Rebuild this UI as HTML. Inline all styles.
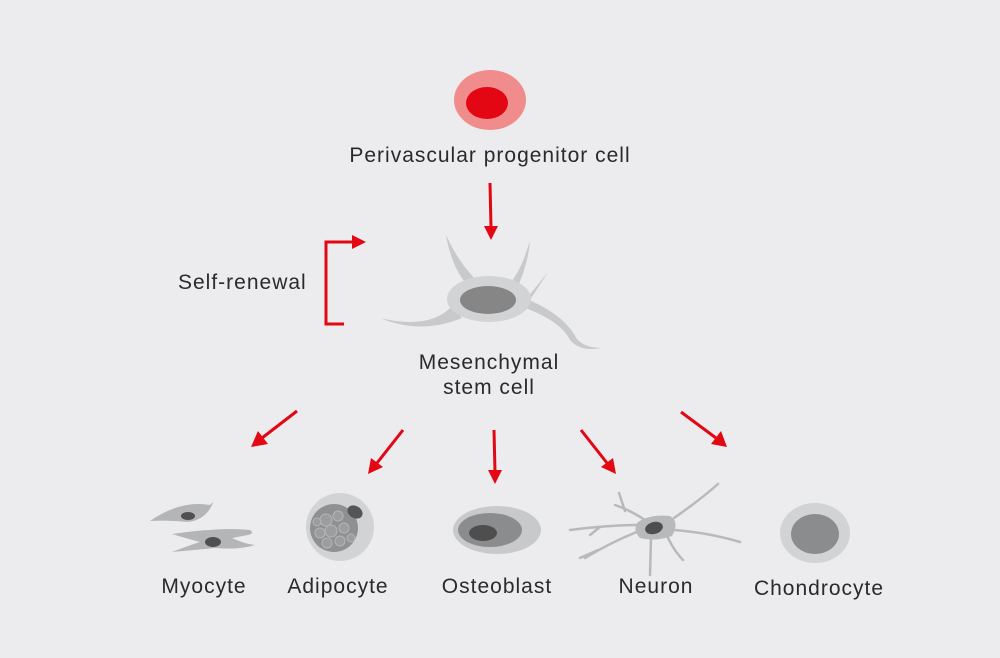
<!DOCTYPE html>
<html><head><style>
html,body{margin:0;padding:0;background:#ececee;}
svg{display:block;}
text{font-family:"Liberation Sans",sans-serif;fill:#2a2a2a;font-size:21px;letter-spacing:1px;}
</style></head><body>
<svg width="1000" height="658" viewBox="0 0 1000 658" xmlns="http://www.w3.org/2000/svg">
<rect width="1000" height="658" fill="#ececee"/>
<!-- top cell -->
<ellipse cx="490" cy="100" rx="36" ry="30" fill="#f08c8c"/>
<ellipse cx="487" cy="103" rx="21" ry="16" fill="#e30613"/>
<text x="490" y="162" text-anchor="middle">Perivascular progenitor cell</text>
<g stroke="#e30613" stroke-width="3" fill="none">
<line x1="490" y1="183" x2="491" y2="228"/>
<line x1="297" y1="411" x2="262" y2="438"/>
<line x1="403" y1="430" x2="377" y2="463"/>
<line x1="494" y1="430" x2="495" y2="472"/>
<line x1="581" y1="430" x2="607" y2="463"/>
<line x1="681" y1="412" x2="716" y2="438"/>
<polyline points="344,324 326,324 326,242 355,242"/>
</g>
<g fill="#e30613">
<polygon points="484,226 498,226 491,240"/>
<polygon points="258,431 268,444 251,447"/>
<polygon points="371,458 383,467 368,474"/>
<polygon points="488,470 502,470 495,484"/>
<polygon points="601,467 613,458 616,474"/>
<polygon points="711,444 721,431 727,447"/>
<polygon points="352,235 366,242 352,249"/>
</g>
<text x="178" y="289">Self-renewal</text>
<!-- MSC -->
<g fill="#c8c9cb">
<path d="M446,235 Q452,270 470,288 L478,282 Q458,262 446,235Z"/>
<path d="M530,240 Q522,270 508,286 L516,290 Q528,266 530,240Z"/>
<path d="M548,272 L527,298 L530,300 Z"/>
<path d="M452,306 Q430,330 380,318 Q420,335 462,318Z"/>
<path d="M520,306 Q560,320 570,340 Q580,352 602,348 Q580,348 574,334 Q560,312 524,298Z"/>
</g>
<ellipse cx="489" cy="299" rx="42" ry="23" fill="#d2d3d5"/>
<ellipse cx="488" cy="300" rx="28" ry="14" fill="#858685"/>
<text x="489" y="369" text-anchor="middle">Mesenchymal</text>
<text x="489" y="394" text-anchor="middle">stem cell</text>
<!-- Myocyte -->
<path d="M150,521 Q180,500 210,505 Q215,500 212,505 Q205,520 188,522 Q170,520 150,521Z" fill="#b4b5b7"/>
<ellipse cx="188" cy="516" rx="7" ry="4" fill="#505050"/>
<path d="M172,534 Q200,530 210,530 Q230,528 250,530 Q255,533 248,535 L232,538 Q245,544 255,545 Q240,550 215,548 Q195,550 172,552 Q190,545 200,542 Q185,538 172,534Z" fill="#b4b5b7"/>
<ellipse cx="213" cy="542" rx="8" ry="5" fill="#505050"/>
<!-- Adipocyte -->
<circle cx="340" cy="527" r="34" fill="#d2d3d5"/>
<circle cx="334" cy="528" r="24" fill="#8f9091"/>
<g fill="#9c9d9e" stroke="#b5b6b7" stroke-width="1">
<circle cx="326" cy="520" r="6"/><circle cx="338" cy="516" r="5"/><circle cx="331" cy="531" r="6"/>
<circle cx="344" cy="528" r="5"/><circle cx="320" cy="533" r="5"/><circle cx="327" cy="543" r="5"/>
<circle cx="340" cy="541" r="5"/><circle cx="351" cy="538" r="4"/><circle cx="317" cy="522" r="4"/>
</g>
<ellipse cx="355" cy="512" rx="8" ry="6" fill="#555" transform="rotate(30 355 512)"/>
<!-- Osteoblast -->
<ellipse cx="497" cy="530" rx="44" ry="24" fill="#c8c9cb"/>
<ellipse cx="490" cy="530" rx="32" ry="17" fill="#8b8c8d"/>
<ellipse cx="483" cy="533" rx="14" ry="8" fill="#4e4e4e"/>
<!-- Neuron -->
<g stroke="#b8b9bb" stroke-width="2.5" fill="none" stroke-linecap="round">
<path d="M674,518 Q700,500 718,484"/>
<path d="M675,530 Q710,533 740,542"/>
<path d="M640,525 Q610,525 570,530"/>
<path d="M642,530 Q615,540 585,558"/>
<path d="M645,520 Q630,510 615,505"/>
<path d="M651,538 L650,575"/>
<path d="M668,538 Q675,552 683,560"/>
<path d="M625,511 L619,493"/>
<path d="M600,527 L590,535"/>
<path d="M598,550 L580,558"/>
</g>
<path d="M638,522 Q650,514 670,516 Q680,522 672,536 Q655,542 640,538 Q632,530 638,522Z" fill="#b8b9bb"/>
<ellipse cx="654" cy="528" rx="9" ry="6" fill="#4e4e4e" transform="rotate(-15 654 528)"/>
<text x="656" y="593" text-anchor="middle">Neuron</text>
<!-- Chondrocyte -->
<ellipse cx="815" cy="533" rx="35" ry="30" fill="#d2d3d5"/>
<ellipse cx="815" cy="534" rx="24" ry="20" fill="#8b8c8d"/>
<text x="204" y="593" text-anchor="middle">Myocyte</text>
<text x="338" y="593" text-anchor="middle">Adipocyte</text>
<text x="497" y="593" text-anchor="middle">Osteoblast</text>
<text x="819" y="595" text-anchor="middle">Chondrocyte</text>
</svg>
</body></html>
